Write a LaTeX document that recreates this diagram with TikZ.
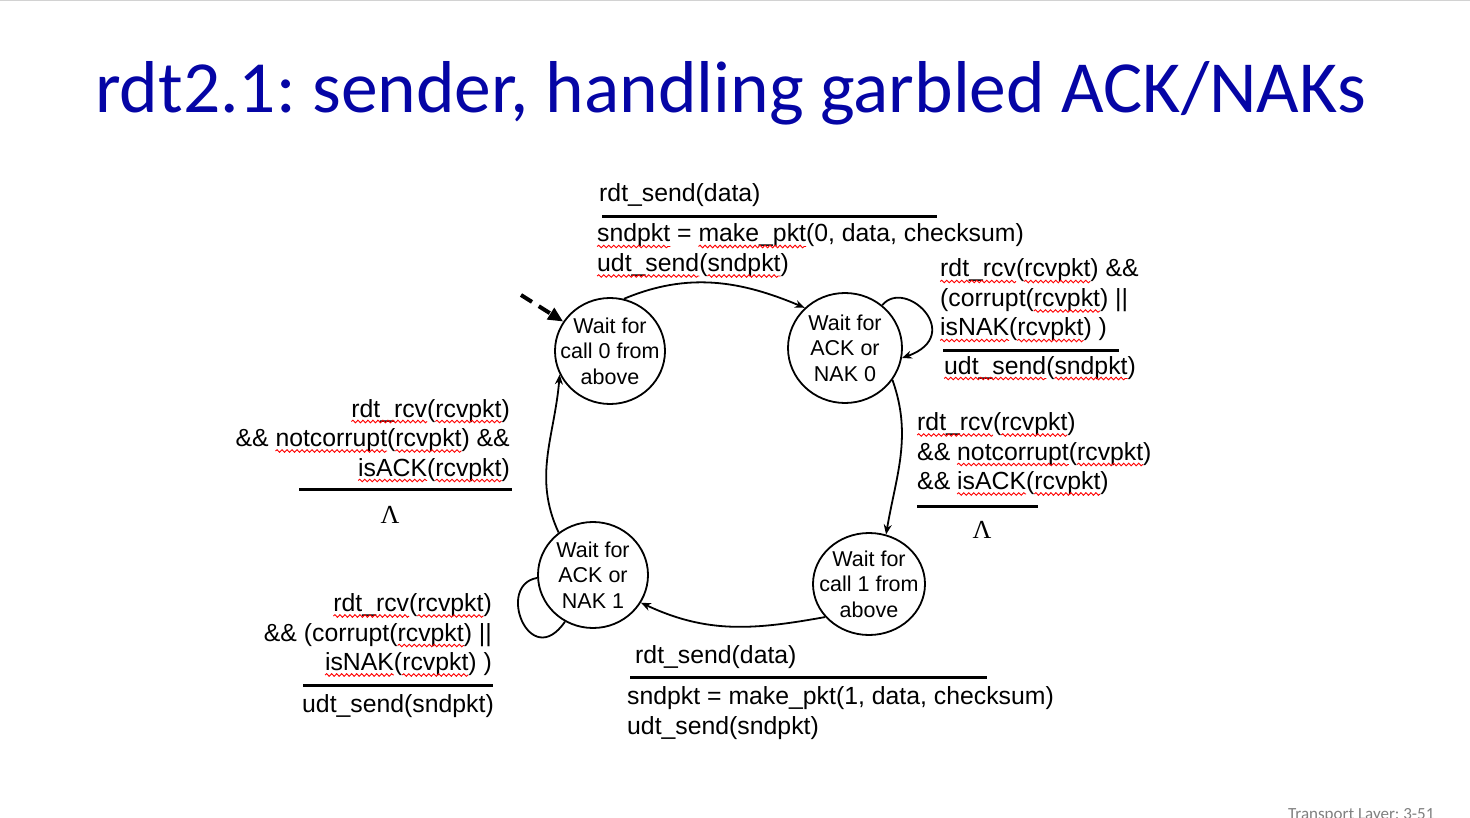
\documentclass[tikz,border=0pt]{standalone}
\usepackage{fontspec}
\setmainfont{Liberation Sans}
\newfontfamily\titlefont{Carlito}
\newfontfamily\lamfont{Liberation Serif}
\usetikzlibrary{arrows.meta,shapes.geometric,decorations.pathmorphing}
\definecolor{slideblue}{HTML}{0505A5}
\definecolor{footgray}{HTML}{7F7F7F}
\frenchspacing
\newcommand\lblsize{\fontsize{24.8}{29.5}\selectfont}
\newcommand\statesize{\fontsize{21.5}{25.5}\selectfont}
\tikzset{
  stat/.style={ellipse, draw, line width=1.8pt, minimum width=110pt, minimum height=106pt, inner xsep=-14pt, inner ysep=-2pt, align=center, font=\statesize},
  lbl/.style={inner sep=0pt, font=\lblsize},
  barline/.style={line width=3pt},
  arr/.style={-{Stealth[length=10pt,width=8pt]}, line width=1.8pt},
  lam/.style={inner sep=0pt, font=\lamfont\fontsize{26}{26}\selectfont},
  wavy/.style={overlay, red, line width=0.9pt, decorate, decoration={snake, amplitude=1.3pt, segment length=5pt}},
}
% red spell-check squiggle under a word
\newcommand\sq[1]{\tikz[baseline=(w.base)]{\node[anchor=base, inner sep=0pt, outer sep=0pt] (w) {#1};\draw[wavy] ([yshift=-4.5pt]w.base west) -- ([yshift=-4.5pt]w.base east);}}
\begin{document}
\begin{tikzpicture}[x=1pt, y=-1pt]
\useasboundingbox (0,0) rectangle (1470,818);
\draw[gray!35, line width=1.5pt] (0,0.75) -- (1470,0.75);
\node[anchor=base west, inner sep=0pt, font=\titlefont\fontsize{73.5}{73.5}\selectfont, text=slideblue] (title) at (95,113) {rdt2.1: sender, handling garbled ACK/NAKs};
\node[anchor=base west, inner sep=0pt, font=\titlefont\fontsize{17}{17}\selectfont, text=footgray] (foot) at (1288,819) {Transport Layer: 3-51};
% states
\node[stat] (A) at (610,351) {Wait for\\call 0 from\\above};
\node[stat, minimum width=114pt, minimum height=110pt] (B) at (845,348) {Wait for\\ACK or\\NAK 0};
\node[stat, minimum width=112pt, minimum height=102pt] (C) at (869,584) {Wait for\\call 1 from\\above};
\node[stat] (D) at (593,575) {Wait for\\ACK or\\NAK 1};
% transitions
\coordinate (init) at (521,295);
\draw[line width=4pt, dash pattern=on 13pt off 8pt, -{Triangle[length=15pt,width=13pt]}] (init) -- (A);
\draw[arr] (A.75) .. controls +(64,-27) and +(-64,-27) .. (B.135);
\draw[arr] (B.49) .. controls +(23,-28) and +(64,-23) .. (B.-10);
\draw[arr] (B.-34) .. controls +(20,56) and +(10,-59) .. (C.71);
\draw[arr] (C.217) .. controls +(-72,13) and +(66,31) .. (D.-30);
\draw[line width=1.8pt] (D.183) .. controls +(-42,7) and +(-35,51) .. (D.-121);
\draw[arr] (D.129) .. controls +(-26,-56) and +(-5,62) .. (A.205);
% labels: top (multi-line nodes sit on their last baseline)
\node[lbl, anchor=base west] (sendev0) at (599,202) {rdt\_send(data)};
\draw[barline] (602,216.5) -- (937,216.5);
\node[lbl, anchor=base west, align=left] (sendact0) at (597,271.5) {\sq{sndpkt} = \sq{make\_pkt}(0, data, checksum)\\\sq{udt\_send}(\sq{sndpkt})};
% labels: right
\node[lbl, anchor=base west, align=left] (nakev0) at (940,336) {\sq{rdt\_rcv}(\sq{rcvpkt}) \&\&\\(corrupt(\sq{rcvpkt}) ||\\\sq{isNAK}(\sq{rcvpkt}) )};
\draw[barline] (943,350) -- (1119,350);
\node[lbl, anchor=base west] (nakact0) at (944,374) {\sq{udt\_send}(\sq{sndpkt})};
\node[lbl, anchor=base west, align=left] (ackev0) at (917,489.5) {\sq{rdt\_rcv}(\sq{rcvpkt})\\\&\& \sq{notcorrupt}(\sq{rcvpkt})\\\&\& \sq{isACK}(\sq{rcvpkt})};
\draw[barline] (917,506) -- (1038,506);
\node[lam] (lam0) at (982,530) {Λ};
% labels: left
\node[lbl, anchor=base east, align=right] (ackev1) at (510,476) {\sq{rdt\_rcv}(\sq{rcvpkt})\\\&\& \sq{notcorrupt}(\sq{rcvpkt}) \&\&\\\sq{isACK}(\sq{rcvpkt})};
\draw[barline] (299,489.5) -- (512,489.5);
\node[lam] (lam1) at (390,515) {Λ};
\node[lbl, anchor=base east, align=right] (nakev1) at (492,670.5) {\sq{rdt\_rcv}(\sq{rcvpkt})\\\&\& (corrupt(\sq{rcvpkt}) ||\\\sq{isNAK}(\sq{rcvpkt}) )};
\draw[barline] (303,685) -- (493,685);
\node[lbl, anchor=base east] (nakact1) at (494,712) {udt\_send(sndpkt)};
% labels: bottom
\node[lbl, anchor=base west] (sendev1) at (635,663) {rdt\_send(data)};
\draw[barline] (630,677) -- (987,677);
\node[lbl, anchor=base west, align=left] (sendact1) at (627,734) {sndpkt = make\_pkt(1, data, checksum)\\udt\_send(sndpkt)};
\end{tikzpicture}
\end{document}
